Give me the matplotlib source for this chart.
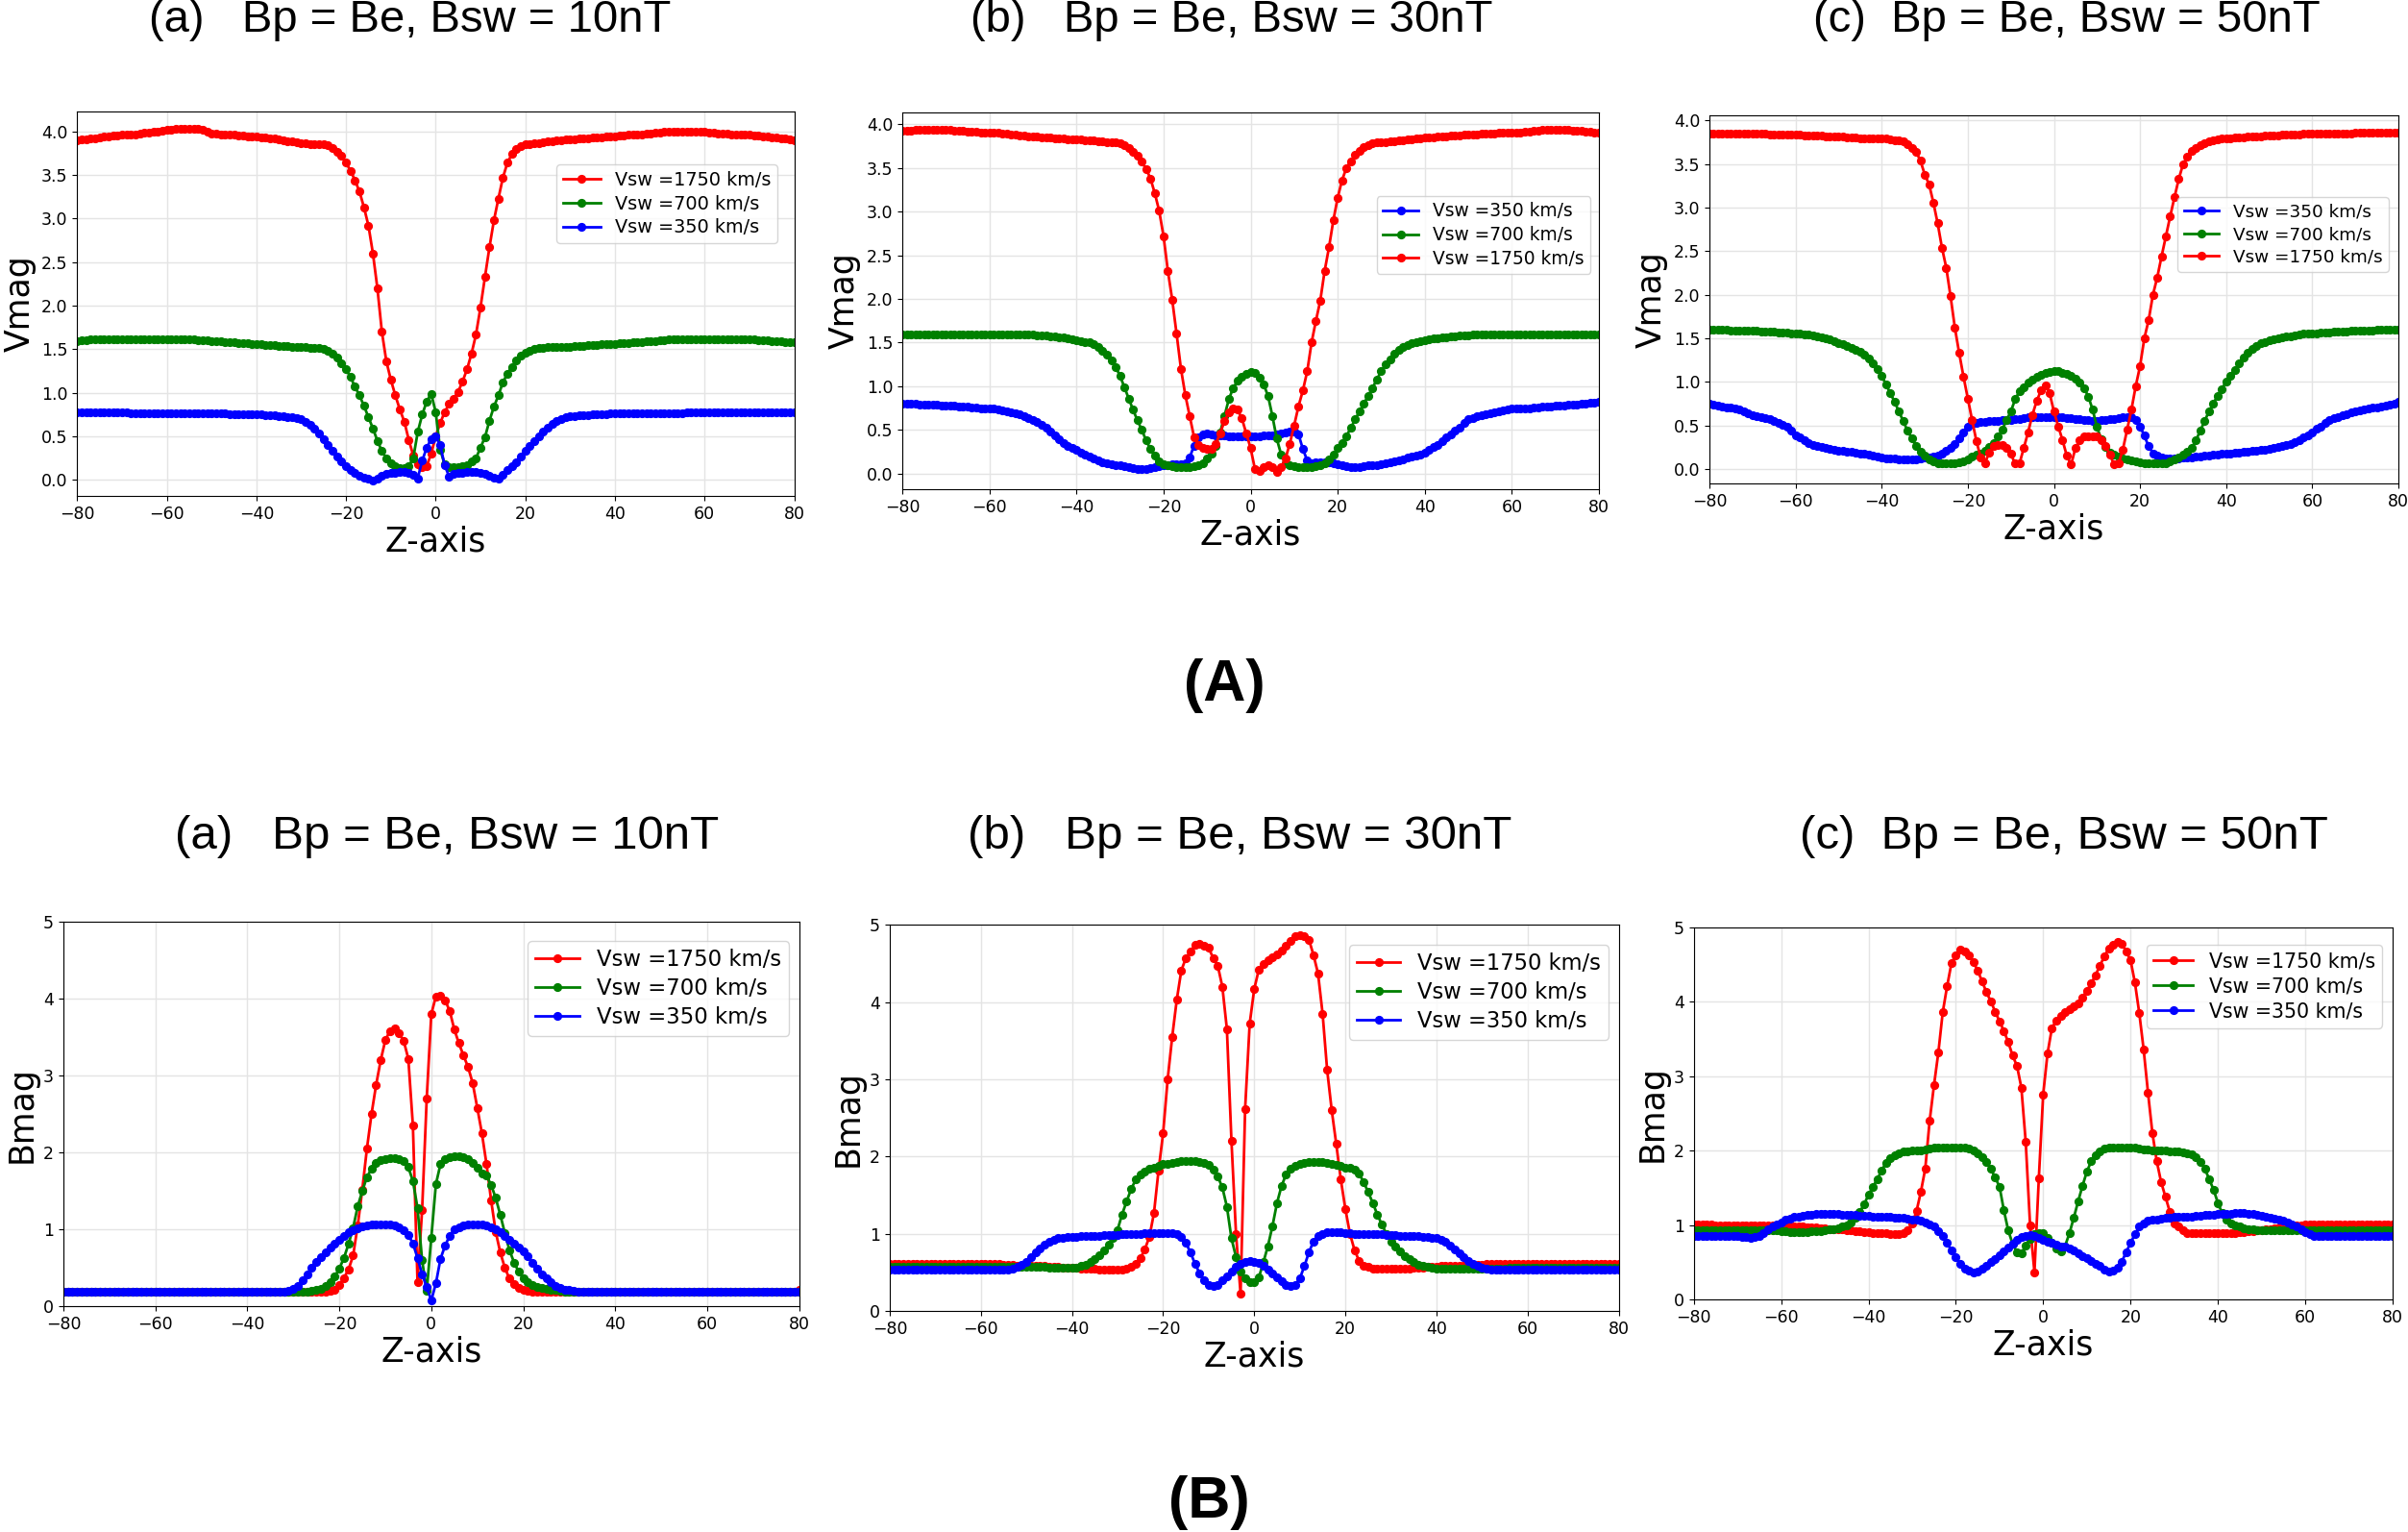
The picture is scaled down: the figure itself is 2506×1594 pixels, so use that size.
import matplotlib
matplotlib.use('Agg')
import matplotlib.pyplot as plt

# ---------------- data ----------------
z = list(range(-80, 81))   # Z-axis sample positions

lab_r = 'Vsw =1750 km/s'
lab_g = 'Vsw =700 km/s'
lab_b = 'Vsw =350 km/s'

# ---- (A) Vmag, Bsw = 10nT ----
va10_r = [3.90,3.91,3.91,3.92,3.92,3.93,3.94,3.94,3.95,3.95,
          3.96,3.96,3.97,3.97,3.98,3.99,3.99,4.00,4.00,4.01,
          4.02,4.02,4.03,4.03,4.03,4.03,4.03,4.03,4.02,4.00,
          3.98,3.98,3.97,3.97,3.96,3.96,3.95,3.95,3.94,3.94,
          3.94,3.93,3.93,3.92,3.92,3.91,3.90,3.89,3.89,3.88,
          3.87,3.87,3.86,3.86,3.86,3.85,3.84,3.81,3.77,3.72,
          3.64,3.55,3.44,3.31,3.13,2.92,2.60,2.20,1.70,1.36,
          1.15,0.97,0.81,0.67,0.46,0.28,0.18,0.15,0.16,0.30,
          0.50,0.65,0.78,0.87,0.93,1.01,1.13,1.27,1.45,1.67,
          1.98,2.33,2.67,2.98,3.23,3.47,3.64,3.74,3.80,3.83,
          3.85,3.86,3.87,3.87,3.88,3.89,3.89,3.90,3.90,3.91,
          3.91,3.91,3.92,3.92,3.92,3.93,3.93,3.93,3.94,3.94,
          3.94,3.95,3.95,3.96,3.96,3.97,3.97,3.98,3.98,3.99,
          3.99,4.00,4.00,4.00,4.00,4.00,4.00,4.00,4.00,4.00,
          4.00,3.99,3.99,3.98,3.98,3.98,3.97,3.97,3.96,3.96,
          3.96,3.95,3.95,3.94,3.94,3.93,3.93,3.92,3.92,3.91,
          3.90]
va10_g = [1.59,1.60,1.60,1.61,1.61,1.61,1.62,1.62,1.62,1.62,
          1.62,1.62,1.62,1.62,1.62,1.62,1.62,1.62,1.62,1.62,
          1.62,1.62,1.62,1.62,1.62,1.61,1.61,1.60,1.60,1.60,
          1.59,1.59,1.59,1.58,1.58,1.58,1.57,1.57,1.57,1.56,
          1.56,1.56,1.55,1.55,1.55,1.54,1.54,1.54,1.53,1.53,
          1.53,1.53,1.52,1.52,1.51,1.50,1.48,1.45,1.41,1.34,
          1.27,1.18,1.07,0.97,0.85,0.72,0.59,0.45,0.33,0.25,
          0.19,0.16,0.14,0.14,0.16,0.25,0.55,0.75,0.90,0.99,
          0.78,0.35,0.18,0.15,0.15,0.15,0.16,0.17,0.21,0.25,
          0.37,0.49,0.68,0.84,0.97,1.12,1.22,1.30,1.37,1.43,
          1.46,1.48,1.50,1.51,1.52,1.53,1.53,1.53,1.53,1.53,
          1.53,1.54,1.54,1.54,1.55,1.55,1.55,1.56,1.56,1.56,
          1.56,1.57,1.57,1.57,1.58,1.58,1.58,1.59,1.59,1.59,
          1.60,1.60,1.61,1.61,1.61,1.62,1.62,1.62,1.62,1.62,
          1.62,1.62,1.62,1.62,1.62,1.62,1.62,1.62,1.62,1.61,
          1.61,1.61,1.60,1.60,1.60,1.59,1.59,1.59,1.58,1.58,
          1.58]
va10_b = [0.78,0.78,0.78,0.78,0.78,0.78,0.78,0.78,0.78,0.78,
          0.78,0.78,0.77,0.77,0.77,0.77,0.77,0.77,0.77,0.77,
          0.77,0.77,0.77,0.77,0.77,0.77,0.76,0.76,0.76,0.76,
          0.76,0.76,0.76,0.76,0.75,0.75,0.75,0.75,0.75,0.75,
          0.75,0.75,0.74,0.74,0.74,0.73,0.73,0.72,0.72,0.71,
          0.70,0.67,0.63,0.59,0.53,0.47,0.40,0.33,0.27,0.21,
          0.16,0.11,0.08,0.05,0.03,0.01,-0.01,0.02,0.05,0.07,
          0.08,0.08,0.09,0.09,0.08,0.06,0.02,0.22,0.37,0.47,
          0.50,0.40,0.17,0.04,0.07,0.08,0.08,0.09,0.09,0.09,
          0.08,0.07,0.05,0.03,0.02,0.06,0.11,0.16,0.20,0.27,
          0.33,0.39,0.44,0.50,0.55,0.60,0.64,0.68,0.70,0.72,
          0.73,0.73,0.74,0.74,0.74,0.75,0.75,0.75,0.75,0.76,
          0.76,0.76,0.76,0.76,0.76,0.76,0.76,0.76,0.76,0.76,
          0.76,0.77,0.77,0.77,0.77,0.77,0.78,0.78,0.78,0.78,
          0.78,0.78,0.78,0.78,0.78,0.78,0.78,0.78,0.78,0.78,
          0.78,0.78,0.78,0.78,0.78,0.78,0.78,0.78,0.78,0.78,
          0.78]

# ---- (A) Vmag, Bsw = 30nT ----
va30_r = [3.93,3.93,3.93,3.94,3.94,3.94,3.94,3.94,3.94,3.94,
          3.94,3.94,3.93,3.93,3.93,3.92,3.92,3.92,3.91,3.91,
          3.91,3.90,3.90,3.89,3.89,3.88,3.88,3.87,3.87,3.86,
          3.86,3.86,3.85,3.85,3.85,3.84,3.84,3.84,3.83,3.83,
          3.83,3.83,3.82,3.82,3.82,3.81,3.81,3.80,3.80,3.79,
          3.78,3.76,3.73,3.69,3.64,3.57,3.49,3.38,3.21,3.01,
          2.72,2.32,1.99,1.60,1.20,0.90,0.66,0.42,0.33,0.29,
          0.28,0.28,0.34,0.46,0.60,0.70,0.75,0.73,0.63,0.46,
          0.29,0.05,0.03,0.07,0.09,0.07,0.02,0.07,0.17,0.34,
          0.55,0.77,0.95,1.17,1.50,1.75,1.98,2.32,2.59,2.90,
          3.16,3.36,3.50,3.58,3.65,3.70,3.74,3.76,3.78,3.79,
          3.80,3.80,3.81,3.81,3.82,3.82,3.83,3.83,3.84,3.84,
          3.85,3.85,3.85,3.86,3.86,3.86,3.87,3.87,3.87,3.88,
          3.88,3.88,3.88,3.89,3.89,3.89,3.89,3.90,3.90,3.90,
          3.90,3.91,3.91,3.92,3.92,3.93,3.93,3.94,3.94,3.94,
          3.94,3.94,3.94,3.94,3.93,3.93,3.93,3.92,3.92,3.91,
          3.91]
va30_g = [1.59,1.59,1.59,1.59,1.59,1.59,1.59,1.59,1.59,1.59,
          1.59,1.59,1.59,1.59,1.59,1.59,1.59,1.59,1.59,1.59,
          1.59,1.59,1.59,1.59,1.59,1.59,1.59,1.59,1.59,1.59,
          1.59,1.58,1.58,1.58,1.57,1.57,1.56,1.56,1.55,1.54,
          1.53,1.52,1.51,1.50,1.48,1.45,1.41,1.36,1.30,1.22,
          1.12,0.99,0.86,0.73,0.61,0.50,0.38,0.28,0.20,0.14,
          0.11,0.09,0.08,0.07,0.07,0.07,0.07,0.08,0.10,0.12,
          0.17,0.23,0.32,0.47,0.66,0.85,0.98,1.06,1.11,1.14,
          1.16,1.15,1.10,1.02,0.89,0.66,0.40,0.22,0.12,0.09,
          0.08,0.07,0.07,0.07,0.07,0.08,0.09,0.12,0.16,0.22,
          0.29,0.35,0.43,0.52,0.62,0.71,0.80,0.89,0.98,1.08,
          1.17,1.25,1.31,1.37,1.42,1.45,1.47,1.49,1.51,1.52,
          1.53,1.54,1.55,1.55,1.56,1.56,1.57,1.57,1.58,1.58,
          1.58,1.59,1.59,1.59,1.59,1.59,1.59,1.59,1.59,1.59,
          1.59,1.59,1.59,1.59,1.59,1.59,1.59,1.59,1.59,1.59,
          1.59,1.59,1.59,1.59,1.59,1.59,1.59,1.59,1.59,1.59,
          1.59]
va30_b = [0.80,0.80,0.80,0.80,0.79,0.79,0.79,0.79,0.79,0.78,
          0.78,0.78,0.78,0.77,0.77,0.77,0.76,0.76,0.75,0.75,
          0.74,0.74,0.73,0.72,0.71,0.70,0.69,0.68,0.66,0.64,
          0.61,0.59,0.56,0.52,0.48,0.44,0.39,0.35,0.31,0.29,
          0.27,0.24,0.22,0.19,0.17,0.15,0.13,0.12,0.11,0.10,
          0.09,0.08,0.07,0.06,0.05,0.05,0.05,0.06,0.07,0.08,
          0.09,0.10,0.11,0.11,0.11,0.12,0.18,0.32,0.42,0.45,
          0.46,0.45,0.44,0.44,0.44,0.43,0.43,0.43,0.43,0.43,
          0.43,0.43,0.43,0.44,0.44,0.44,0.45,0.46,0.47,0.48,
          0.48,0.45,0.28,0.15,0.12,0.13,0.13,0.13,0.13,0.12,
          0.11,0.10,0.08,0.07,0.07,0.07,0.08,0.09,0.10,0.10,
          0.11,0.12,0.13,0.14,0.15,0.16,0.18,0.19,0.20,0.22,
          0.24,0.27,0.30,0.33,0.37,0.41,0.45,0.49,0.53,0.58,
          0.62,0.64,0.66,0.67,0.68,0.69,0.70,0.71,0.72,0.73,
          0.74,0.74,0.75,0.75,0.75,0.76,0.76,0.77,0.77,0.77,
          0.78,0.78,0.78,0.79,0.79,0.79,0.80,0.80,0.81,0.81,
          0.82]

# ---- (A) Vmag, Bsw = 50nT ----
va50_r = [3.85,3.85,3.85,3.85,3.85,3.85,3.85,3.85,3.85,3.85,
          3.85,3.85,3.85,3.85,3.84,3.84,3.84,3.84,3.84,3.84,
          3.84,3.84,3.83,3.83,3.83,3.83,3.83,3.82,3.82,3.82,
          3.82,3.82,3.81,3.81,3.81,3.80,3.80,3.80,3.79,3.79,
          3.79,3.79,3.78,3.77,3.77,3.76,3.73,3.69,3.64,3.54,
          3.38,3.27,3.06,2.82,2.54,2.31,1.98,1.62,1.33,1.06,
          0.81,0.56,0.32,0.13,0.07,0.19,0.26,0.28,0.27,0.24,
          0.17,0.06,0.06,0.24,0.42,0.62,0.78,0.90,0.96,0.87,
          0.66,0.49,0.33,0.15,0.05,0.24,0.33,0.37,0.37,0.37,
          0.37,0.33,0.26,0.16,0.05,0.06,0.22,0.45,0.68,0.95,
          1.18,1.50,1.71,2.00,2.20,2.44,2.67,2.90,3.12,3.33,
          3.50,3.59,3.65,3.69,3.72,3.74,3.76,3.77,3.78,3.79,
          3.80,3.80,3.81,3.81,3.81,3.82,3.82,3.82,3.82,3.83,
          3.83,3.83,3.83,3.84,3.84,3.84,3.84,3.84,3.85,3.85,
          3.85,3.85,3.85,3.85,3.85,3.85,3.85,3.85,3.85,3.85,
          3.86,3.86,3.86,3.86,3.86,3.86,3.86,3.86,3.86,3.86,
          3.86]
va50_g = [1.60,1.60,1.60,1.60,1.60,1.59,1.59,1.59,1.59,1.59,
          1.59,1.59,1.58,1.58,1.58,1.58,1.57,1.57,1.57,1.56,
          1.56,1.55,1.54,1.54,1.53,1.52,1.51,1.50,1.49,1.47,
          1.45,1.43,1.41,1.39,1.37,1.34,1.31,1.27,1.21,1.15,
          1.07,0.97,0.87,0.77,0.66,0.55,0.44,0.35,0.26,0.20,
          0.15,0.11,0.09,0.07,0.06,0.06,0.06,0.07,0.08,0.09,
          0.11,0.14,0.16,0.18,0.21,0.25,0.30,0.37,0.45,0.56,
          0.66,0.80,0.89,0.94,0.99,1.03,1.06,1.08,1.10,1.11,
          1.12,1.12,1.10,1.09,1.07,1.04,0.99,0.93,0.83,0.68,
          0.48,0.34,0.25,0.19,0.16,0.14,0.12,0.11,0.10,0.09,
          0.08,0.07,0.07,0.06,0.06,0.07,0.07,0.09,0.11,0.13,
          0.16,0.20,0.24,0.33,0.44,0.55,0.66,0.75,0.84,0.92,
          1.00,1.07,1.14,1.21,1.28,1.33,1.38,1.41,1.44,1.46,
          1.48,1.49,1.50,1.51,1.52,1.52,1.53,1.54,1.55,1.55,
          1.56,1.56,1.57,1.57,1.57,1.58,1.58,1.58,1.58,1.59,
          1.59,1.59,1.59,1.59,1.59,1.60,1.60,1.60,1.60,1.60,
          1.60]
va50_b = [0.75,0.74,0.73,0.72,0.71,0.70,0.69,0.68,0.66,0.64,
          0.62,0.61,0.60,0.58,0.57,0.55,0.53,0.51,0.48,0.44,
          0.39,0.36,0.33,0.30,0.28,0.26,0.25,0.24,0.23,0.22,
          0.21,0.21,0.20,0.20,0.19,0.18,0.17,0.16,0.15,0.14,
          0.13,0.12,0.12,0.12,0.11,0.11,0.11,0.11,0.11,0.12,
          0.13,0.13,0.14,0.15,0.17,0.21,0.24,0.29,0.35,0.42,
          0.49,0.52,0.53,0.54,0.54,0.55,0.55,0.55,0.56,0.56,
          0.56,0.57,0.57,0.58,0.59,0.59,0.60,0.60,0.60,0.60,
          0.59,0.59,0.59,0.58,0.58,0.57,0.57,0.56,0.56,0.55,
          0.55,0.56,0.56,0.57,0.57,0.58,0.59,0.60,0.60,0.56,
          0.49,0.38,0.26,0.18,0.15,0.13,0.12,0.12,0.12,0.12,
          0.13,0.13,0.13,0.14,0.14,0.15,0.15,0.16,0.16,0.17,
          0.18,0.18,0.19,0.19,0.20,0.20,0.21,0.21,0.22,0.22,
          0.23,0.24,0.25,0.26,0.27,0.29,0.31,0.33,0.36,0.39,
          0.42,0.46,0.49,0.53,0.56,0.58,0.60,0.62,0.63,0.65,
          0.66,0.67,0.68,0.69,0.70,0.71,0.72,0.73,0.74,0.75,
          0.77]

# ---- (B) Bmag, Bsw = 10nT ----
bm10_r = [0.19]*50 + [
          0.19,0.19,0.19,0.19,0.19,0.19,0.19,0.19,0.20,0.22,
          0.28,0.37,0.48,0.66,1.05,1.52,2.05,2.50,2.88,3.20,
          3.46,3.58,3.61,3.55,3.45,3.22,2.35,0.32,1.25,2.70,
          3.80,4.03,4.04,3.98,3.84,3.60,3.42,3.26,3.11,2.90,
          2.58,2.25,1.85,1.38,0.97,0.70,0.50,0.36,0.29,0.24,
          0.21,0.20,0.19,0.19,0.19,0.19,0.19,0.19,0.19,0.19] + [0.19]*50 + [0.21]
bm10_g = [0.19]*50 + [
          0.19,0.19,0.19,0.19,0.20,0.21,0.23,0.26,0.31,0.39,
          0.49,0.63,0.81,1.02,1.30,1.50,1.68,1.79,1.86,1.90,
          1.92,1.93,1.93,1.92,1.89,1.81,1.63,1.28,0.60,0.20,
          0.89,1.59,1.85,1.92,1.94,1.95,1.95,1.94,1.91,1.86,
          1.80,1.73,1.70,1.58,1.41,1.19,0.95,0.73,0.57,0.45,
          0.36,0.31,0.28,0.25,0.24,0.23,0.22,0.21,0.20,0.19] + [0.19]*51
bm10_b = [0.19]*49 + [0.20,
          0.23,0.27,0.34,0.42,0.50,0.58,0.64,0.70,0.76,0.82,
          0.87,0.92,0.96,0.99,1.02,1.04,1.05,1.06,1.07,1.07,
          1.07,1.06,1.05,1.03,0.99,0.93,0.82,0.63,0.42,0.25,
          0.08,0.30,0.62,0.79,0.92,1.00,1.03,1.05,1.06,1.06,
          1.06,1.06,1.05,1.03,1.00,0.96,0.92,0.87,0.82,0.77,
          0.71,0.65,0.57,0.49,0.42,0.36,0.31,0.27,0.24,0.22,
          0.21,0.20,0.19,0.19,0.19,0.19,0.19,0.19,0.19,0.19] + [0.19]*41

# ---- (B) Bmag, Bsw = 30nT ----
bm30_r = [0.61,0.61,0.61,0.61,0.61,0.61,0.61,0.61,0.61,0.61,
          0.61,0.61,0.61,0.61,0.61,0.61,0.61,0.61,0.61,0.61,
          0.61,0.61,0.61,0.61,0.61,0.60,0.60,0.60,0.59,0.59,
          0.59,0.59,0.58,0.58,0.58,0.57,0.57,0.57,0.56,0.56,
          0.56,0.56,0.55,0.55,0.55,0.55,0.54,0.54,0.54,0.53,
          0.53,0.54,0.55,0.57,0.61,0.68,0.80,0.96,1.27,1.82,
          2.30,3.00,3.55,4.03,4.41,4.57,4.65,4.74,4.75,4.73,
          4.70,4.57,4.47,4.20,3.65,2.20,1.00,0.22,2.62,3.72,
          4.17,4.42,4.49,4.54,4.58,4.62,4.67,4.73,4.79,4.85,
          4.87,4.86,4.81,4.61,4.37,3.85,3.12,2.60,2.16,1.70,
          1.32,1.00,0.79,0.65,0.59,0.57,0.55,0.55,0.55,0.55,
          0.55,0.55,0.55,0.55,0.55,0.56,0.56,0.56,0.57,0.57,
          0.57,0.58,0.58,0.58,0.58,0.59,0.59,0.59,0.60,0.60,
          0.60,0.61,0.61,0.61,0.61,0.61,0.61,0.61,0.61,0.61,
          0.61,0.61,0.61,0.61,0.61,0.61,0.61,0.61,0.61,0.61,
          0.61,0.61,0.61,0.61,0.61,0.61,0.61,0.61,0.61,0.61,
          0.61]
bm30_g = [0.57]*30 + [
          0.57,0.57,0.57,0.57,0.57,0.56,0.56,0.56,0.56,0.56,
          0.56,0.56,0.58,0.60,0.63,0.67,0.72,0.78,0.86,0.95,
          1.05,1.25,1.42,1.58,1.70,1.77,1.81,1.84,1.86,1.88,
          1.90,1.91,1.92,1.93,1.94,1.94,1.94,1.94,1.93,1.92,
          1.89,1.83,1.74,1.60,1.35,0.94,0.70,0.51,0.42,0.37,
          0.37,0.43,0.63,0.84,1.10,1.40,1.62,1.77,1.84,1.88,
          1.91,1.92,1.93,1.93,1.93,1.93,1.92,1.91,1.89,1.88,
          1.86,1.85,1.83,1.78,1.67,1.54,1.40,1.25,1.12,1.00,
          0.90,0.83,0.77,0.71,0.67,0.63,0.60,0.58,0.57,0.56,
          0.55,0.55,0.55,0.55,0.55,0.55,0.55,0.55,0.55,0.55,
          0.55,0.55,0.55,0.55,0.55,0.55,0.56,0.56,0.56,0.56] + [0.56]*21
bm30_b = [0.53]*20 + [
          0.53,0.53,0.53,0.53,0.53,0.53,0.54,0.55,0.57,0.60,
          0.64,0.70,0.76,0.81,0.86,0.89,0.92,0.94,0.95,0.96,
          0.96,0.96,0.97,0.97,0.97,0.97,0.97,0.98,0.98,0.98,
          0.98,0.99,0.99,1.00,1.00,1.00,1.01,1.01,1.01,1.01,
          1.01,1.01,1.01,0.99,0.96,0.88,0.76,0.61,0.49,0.40,
          0.34,0.32,0.34,0.40,0.45,0.51,0.57,0.61,0.64,0.65,
          0.64,0.62,0.58,0.54,0.49,0.43,0.38,0.34,0.32,0.34,
          0.42,0.58,0.76,0.90,0.97,1.00,1.02,1.02,1.02,1.02,
          1.01,1.01,1.00,1.00,1.00,1.00,1.00,0.99,0.99,0.98,
          0.98,0.98,0.97,0.97,0.97,0.97,0.97,0.96,0.96,0.95,
          0.94,0.92,0.89,0.85,0.80,0.75,0.70,0.65,0.61,0.58,
          0.56,0.55,0.54,0.54,0.53,0.53,0.53,0.53,0.53,0.53] + [0.53]*21

# ---- (B) Bmag, Bsw = 50nT ----
bm50_r = [1.01,1.01,1.01,1.01,1.01,1.00,1.00,1.00,1.00,1.00,
          1.00,1.00,1.00,1.00,1.00,1.00,1.00,1.00,1.00,1.00,
          1.00,1.00,0.99,0.99,0.98,0.98,0.97,0.97,0.97,0.96,
          0.96,0.95,0.95,0.94,0.94,0.93,0.93,0.92,0.92,0.91,
          0.91,0.90,0.90,0.89,0.89,0.88,0.88,0.88,0.89,0.93,
          1.02,1.19,1.45,1.76,2.40,2.88,3.32,3.86,4.21,4.52,
          4.63,4.70,4.68,4.62,4.54,4.42,4.28,4.13,4.01,3.87,
          3.74,3.61,3.46,3.28,3.14,2.85,2.12,1.00,0.37,1.63,
          2.76,3.31,3.65,3.75,3.81,3.86,3.90,3.94,3.98,4.06,
          4.15,4.25,4.36,4.49,4.61,4.72,4.77,4.81,4.78,4.68,
          4.56,4.26,3.85,3.36,2.78,2.24,1.86,1.58,1.38,1.18,
          1.02,0.98,0.93,0.90,0.89,0.89,0.89,0.89,0.89,0.89,
          0.89,0.89,0.90,0.90,0.90,0.91,0.91,0.92,0.92,0.93,
          0.93,0.94,0.95,0.96,0.97,0.98,0.99,0.99,1.00,1.00] + [1.01]*21
bm50_g = [0.93]*20 + [
          0.92,0.92,0.91,0.91,0.91,0.91,0.91,0.92,0.92,0.92,
          0.93,0.94,0.95,0.96,0.98,1.00,1.04,1.10,1.18,1.28,
          1.41,1.51,1.62,1.73,1.84,1.90,1.94,1.97,1.99,1.99,
          2.00,2.00,2.01,2.02,2.03,2.04,2.04,2.05,2.05,2.05,
          2.05,2.05,2.04,2.03,2.01,1.97,1.92,1.85,1.76,1.64,
          1.52,1.20,0.93,0.75,0.64,0.62,0.73,0.82,0.88,0.90,
          0.89,0.83,0.76,0.69,0.65,0.72,0.89,1.10,1.32,1.53,
          1.72,1.86,1.94,1.99,2.03,2.04,2.05,2.05,2.05,2.04,
          2.04,2.04,2.03,2.02,2.02,2.01,2.01,2.00,2.00,1.99,
          1.99,1.99,1.98,1.97,1.95,1.91,1.85,1.76,1.62,1.48,
          1.30,1.16,1.07,1.03,1.00,0.98,0.96,0.95,0.94,0.93] + [0.93]*31
bm50_b = [0.85,0.85,0.85,0.85,0.85,0.85,0.85,0.85,0.85,0.85,
          0.85,0.84,0.84,0.83,0.84,0.86,0.90,0.94,0.98,1.01,
          1.04,1.07,1.09,1.11,1.12,1.13,1.14,1.14,1.15,1.15,
          1.15,1.15,1.15,1.15,1.14,1.14,1.14,1.14,1.13,1.13,
          1.13,1.12,1.12,1.11,1.11,1.11,1.10,1.10,1.10,1.09,
          1.08,1.07,1.06,1.04,1.01,0.98,0.92,0.85,0.76,0.66,
          0.57,0.48,0.42,0.39,0.37,0.38,0.42,0.46,0.51,0.55,
          0.60,0.65,0.70,0.75,0.80,0.84,0.86,0.87,0.86,0.83,
          0.80,0.78,0.76,0.74,0.72,0.71,0.69,0.66,0.63,0.59,
          0.56,0.52,0.48,0.45,0.41,0.38,0.39,0.43,0.51,0.64,
          0.76,0.88,0.98,1.03,1.06,1.07,1.08,1.09,1.10,1.10,
          1.11,1.11,1.12,1.12,1.12,1.13,1.13,1.14,1.14,1.14,
          1.15,1.15,1.15,1.15,1.16,1.16,1.16,1.15,1.15,1.14,
          1.13,1.12,1.10,1.09,1.07,1.06,1.04,1.01,0.98,0.95,
          0.91,0.88,0.86,0.85,0.85,0.85,0.85,0.85,0.85,0.85,
          0.85,0.85,0.85,0.85,0.85,0.85,0.85,0.85,0.85,0.85,
          0.85]

titles = ['(a)   Bp = Be, Bsw = 10nT', '(b)   Bp = Be, Bsw = 30nT', '(c)  Bp = Be, Bsw = 50nT']
row_labels = ['(A)', '(B)']
xticks = [-80, -60, -40, -20, 0, 20, 40, 60, 80]
vticks = [0.0, 0.5, 1.0, 1.5, 2.0, 2.5, 3.0, 3.5, 4.0]
bticks = [0, 1, 2, 3, 4, 5]

# -------- check lengths --------
for name in ['va10_r','va10_g','va10_b','va30_r','va30_g','va30_b','va50_r','va50_g','va50_b',
             'bm10_r','bm10_g','bm10_b','bm30_r','bm30_g','bm30_b','bm50_r','bm50_g','bm50_b']:
    n = len(globals()[name])
    if n != len(z):
        raise ValueError(f'{name} has {n} values, expected {len(z)}')

# ---------------- figure ----------------
fig = plt.figure(figsize=(25.06, 15.94), dpi=100)

panels = [
    # rect, ylabel, ylim, yticks, series order, legend anchor, legend fontsize
    ([0.03204, 0.67628, 0.29777, 0.25094], 'Vmag', (-0.184, 4.23), vticks,
     [('red', va10_r, lab_r), ('green', va10_g, lab_g), ('blue', va10_b, lab_b)], (0.977, 0.8625), 13.9),
    ([0.37470, 0.68068, 0.28931, 0.24611], 'Vmag', (-0.18, 4.14), vticks,
     [('blue', va30_b, lab_b), ('green', va30_g, lab_g), ('red', va30_r, lab_r)], (0.988, 0.7775), 13.4),
    ([0.70990, 0.68425, 0.28611, 0.24046], 'Vmag', (-0.17, 4.06), vticks,
     [('blue', va50_b, lab_b), ('green', va50_g, lab_g), ('red', va50_r, lab_r)], (0.986, 0.778), 13.2),
    ([0.02630, 0.14724, 0.30563, 0.25113], 'Bmag', (0, 5), bticks,
     [('red', bm10_r, lab_r), ('green', bm10_g, lab_g), ('blue', bm10_b, lab_b)], (0.986, 0.95), 16.4),
    ([0.36947, 0.14429, 0.30279, 0.25201], 'Bmag', (0, 5), bticks,
     [('red', bm30_r, lab_r), ('green', bm30_g, lab_g), ('blue', bm30_b, lab_b)], (0.986, 0.948), 16.3),
    ([0.70339, 0.15163, 0.29022, 0.24297], 'Bmag', (0, 5), bticks,
     [('red', bm50_r, lab_r), ('green', bm50_g, lab_g), ('blue', bm50_b, lab_b)], (0.985, 0.954), 14.8),
]

for rect, ylab, ylim, yt, series, anchor, lfs in panels:
    ax = fig.add_axes(rect)
    for color, vals, lab in series:
        ax.plot(z, vals, '-o', color=color, lw=2.0, ms=5.6, mew=1.0, label=lab)
    ax.set_xlim(-80, 80)
    ax.set_ylim(*ylim)
    ax.set_xticks(xticks)
    ax.set_yticks(yt)
    if ylab == 'Vmag':
        ax.set_yticklabels([f'{v:.1f}' for v in yt])
    ax.tick_params(labelsize=12.5)
    ax.grid(True, color='#e4e4e4', lw=1.0)
    ax.set_axisbelow(True)
    ax.set_xlabel('Z-axis', fontsize=25, labelpad=2)
    ax.set_ylabel(ylab, fontsize=25, labelpad=4)
    ax.legend(loc='upper right', bbox_to_anchor=anchor, borderaxespad=0,
              fontsize=lfs, labelspacing=0.3, borderpad=0.35, edgecolor='#cccccc')

tfont = dict(family='Liberation Sans', ha='center', va='center')
for x, t in zip([0.1704, 0.5116, 0.8583], titles):
    fig.text(x, 0.9868, t, fontsize=34, **tfont)
for x, t in zip([0.1856, 0.5148, 0.8571], titles):
    fig.text(x, 0.4536, t, fontsize=35.5, **tfont)
fig.text(0.5084, 0.5521, row_labels[0], fontsize=44, fontweight='bold', **tfont)
fig.text(0.5020, 0.0194, row_labels[1], fontsize=44, fontweight='bold', **tfont)

fig.savefig('out.png', dpi=100)
